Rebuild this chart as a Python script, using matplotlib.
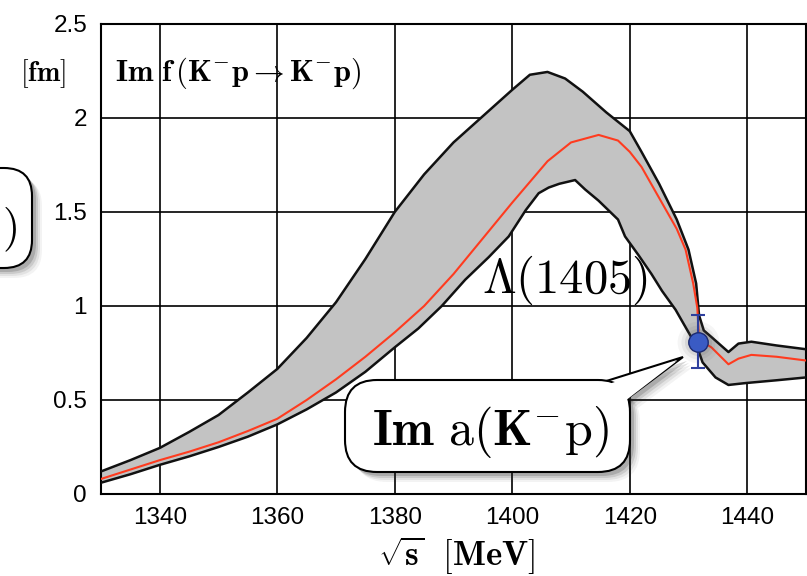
import matplotlib
matplotlib.use("Agg")
import matplotlib.pyplot as plt
from matplotlib.patches import FancyBboxPatch, Polygon
from matplotlib.transforms import Affine2D

# --- data ------------------------------------------------------------------
x_upper = [1330, 1335, 1340, 1345, 1350, 1355, 1360, 1365, 1370, 1375, 1380, 1385,
           1390, 1395, 1400, 1403, 1406, 1409, 1412, 1416, 1420, 1422, 1425, 1428,
           1430, 1431.3, 1431.8, 1432.6, 1433.9, 1436.8, 1438.5, 1440.7, 1445, 1450]
y_upper = [0.12, 0.18, 0.245, 0.33, 0.42, 0.54, 0.665, 0.83, 1.02, 1.25, 1.5, 1.70,
           1.87, 2.01, 2.15, 2.23, 2.245, 2.21, 2.14, 2.03, 1.93, 1.82, 1.65, 1.46,
           1.30, 1.12, 0.95, 0.87, 0.835, 0.755, 0.80, 0.81, 0.79, 0.77]

x_lower = [1330, 1335, 1340, 1345, 1350, 1355, 1360, 1365, 1370, 1375, 1380, 1384,
           1388, 1392, 1396, 1399.4, 1402.3, 1404.5, 1406.2, 1408, 1410.7, 1412.4,
           1414.7, 1418, 1419.2, 1421.5, 1423.7, 1425.5, 1427.8, 1430, 1431.5,
           1432.4, 1434.6, 1436.8, 1439.7, 1445, 1450]
y_lower = [0.06, 0.105, 0.155, 0.20, 0.25, 0.305, 0.37, 0.45, 0.54, 0.65, 0.78, 0.88,
           1.0, 1.14, 1.26, 1.37, 1.51, 1.60, 1.63, 1.65, 1.67, 1.62,
           1.56, 1.46, 1.37, 1.27, 1.17, 1.08, 0.98, 0.86, 0.78,
           0.70, 0.62, 0.58, 0.59, 0.605, 0.62]

x_center = [1330, 1335, 1340, 1345, 1350, 1355, 1360, 1365, 1370, 1375, 1380, 1385,
            1390, 1395, 1400, 1403, 1406, 1410, 1414.7, 1418, 1420, 1422, 1424, 1426,
            1428, 1429.5, 1430.8, 1431.5, 1431.8, 1433.9, 1436.8, 1438.5, 1440.7,
            1445, 1450]
y_center = [0.08, 0.13, 0.18, 0.225, 0.275, 0.335, 0.40, 0.50, 0.61, 0.73, 0.86, 1.0,
            1.17, 1.36, 1.55, 1.66, 1.77, 1.87, 1.91, 1.88, 1.82, 1.74, 1.63, 1.52,
            1.41, 1.30, 1.12, 0.99, 0.82, 0.78, 0.69, 0.72, 0.74, 0.73, 0.71]

point_x = [1431.7]
point_y = [0.81]
point_err = [0.14]

xticks = [1340, 1360, 1380, 1400, 1420, 1440]
yticks = [0, 0.5, 1, 1.5, 2, 2.5]
ytick_labels = ["0", "0.5", "1", "1.5", "2", "2.5"]

plt.rcParams['mathtext.fontset'] = 'cm'
plt.rcParams['font.family'] = ['Liberation Sans', 'DejaVu Sans']

W, H = 807, 576
fig = plt.figure(figsize=(W / 100, H / 100), dpi=100)
ax = fig.add_axes([101 / W, 82 / H, 705 / W, 470 / H])

# pixel coordinates, image style (origin top-left)
px = Affine2D().scale(1 / W, -1 / H).translate(0, 1) + fig.transFigure

# band
band_x = x_upper + x_lower[::-1]
band_y = y_upper + y_lower[::-1]
ax.fill(band_x, band_y, color='#c3c3c3', lw=0, zorder=2)
ax.plot(x_upper, y_upper, color='#111111', lw=1.8, zorder=3, solid_joinstyle='round')
ax.plot(x_lower, y_lower, color='#111111', lw=1.8, zorder=3, solid_joinstyle='round')
ax.plot(x_center, y_center, color='#ff3b1f', lw=1.5, zorder=4)

# glow behind the data point
for s, a in [(900, 0.06), (600, 0.08), (380, 0.12)]:
    ax.scatter(point_x, point_y, s=s, color='#555555', alpha=a, lw=0, zorder=4.5)
ax.errorbar(point_x, point_y, yerr=point_err, fmt='o', color='#2e3f9e',
            mfc='#3a5bc4', mec='#1c2a70', ms=14, capsize=5, capthick=1.5,
            elinewidth=1.5, zorder=6)

ax.set_xlim(1330, 1450)
ax.set_ylim(0, 2.5)
ax.set_xticks(xticks)
ax.set_yticks(yticks)
ax.set_yticklabels(ytick_labels)
ax.tick_params(length=0, labelsize=17.5, pad=10)
ax.tick_params(axis='x', pad=9)
ax.grid(True, color='k', lw=1.2, zorder=1)
ax.set_axisbelow(True)
for sp in ax.spines.values():
    sp.set_linewidth(1.5)

# texts
fig.text(115, 81, r'$\mathbf{Im\ f\,(K^{-}p \rightarrow K^{-}p)}$', transform=px,
         fontsize=22, ha='left', va='baseline')
fig.text(20, 81, r'$[\mathbf{fm}]$', transform=px, fontsize=20, ha='left', va='baseline')
fig.text(378, 566, r'$\sqrt{\mathbf{s}}\ \ [\mathbf{MeV}]$', transform=px,
         fontsize=25, ha='left', va='baseline')
fig.text(482, 293, r'$\Lambda(1405)$', transform=px, fontsize=35,
         ha='left', va='baseline', zorder=7)


def bubble(x0, y0, x1, y1, r, wedge=None):
    # soft shadow first
    for off, a in [(10, 0.05), (8, 0.08), (6, 0.12), (4, 0.18)]:
        sh = FancyBboxPatch((x0 + off, y0 + off), x1 - x0, y1 - y0,
                            boxstyle=f"round,pad=0,rounding_size={r}",
                            transform=px, fc='#202020', ec='none', alpha=a, zorder=8)
        fig.patches.append(sh)
        if wedge is not None:
            w = Polygon([(p[0] + off, p[1] + off) for p in wedge], closed=True,
                        transform=px, fc='#202020', ec='none', alpha=a, zorder=8)
            fig.patches.append(w)
    if wedge is not None:
        w = Polygon(wedge, closed=True, transform=px, fc='white', ec='k', lw=1.5, zorder=9)
        fig.patches.append(w)
    box = FancyBboxPatch((x0, y0), x1 - x0, y1 - y0,
                         boxstyle=f"round,pad=0,rounding_size={r}",
                         transform=px, fc='white', ec='k', lw=1.5, zorder=10)
    fig.patches.append(box)
    if wedge is not None:
        inner = Polygon([(wedge[0][0] + 3, wedge[0][1] + 3),
                         (wedge[1][0] - 3, wedge[1][1] + 3),
                         (wedge[2][0] - 6, wedge[2][1] + 4)],
                        closed=True, transform=px, fc='white', ec='none', zorder=11)
        fig.patches.append(inner)


bubble(345, 380, 630, 472, 32, wedge=[(600, 383), (628, 398), (683, 357)])
fig.text(490, 445, r'$\mathbf{Im}\ \mathrm{a}(\mathbf{K}^{-}\mathrm{p})$', transform=px,
         fontsize=36, ha='center', va='baseline', zorder=12)

bubble(-250, 168, 32, 268, 28)
fig.text(17, 240, r'$)$', transform=px, fontsize=32, ha='right', va='baseline', zorder=12)

fig.savefig('out.png', dpi=100)
